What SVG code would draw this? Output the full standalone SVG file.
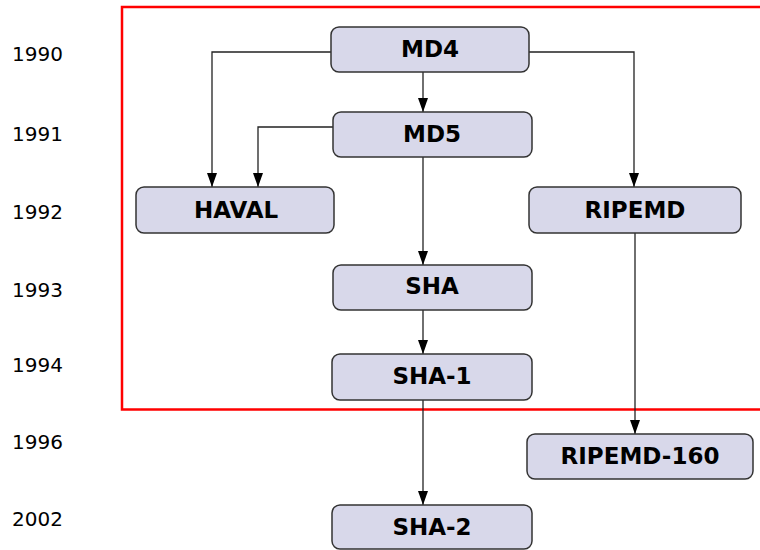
<svg xmlns="http://www.w3.org/2000/svg" width="760" height="550" viewBox="0 0 760 550">
<defs>
<marker id="ah" markerWidth="14" markerHeight="10" refX="14" refY="5" orient="auto" markerUnits="userSpaceOnUse" viewBox="0 0 14 10">
<path d="M0,0 L14,5 L0,10 z" fill="#000"/>
</marker>
<style>
.node rect{fill:#d8d8ea;stroke:#333;stroke-width:1.5}
.node text{font-family:"DejaVu Sans",Verdana,sans-serif;font-weight:bold;font-size:23px;text-anchor:middle;fill:#000}
.year{font-family:"DejaVu Sans",Verdana,sans-serif;font-size:20px;fill:#000}
.edge{fill:none;stroke:#222;stroke-width:1.3;marker-end:url(#ah)}
</style>
</defs>
<rect width="760" height="550" fill="#fff"/>
<path d="M762,7 H122 V409.5 H762" fill="none" stroke="#f00" stroke-width="2.5"/>
<g id="years">
<text class="year" x="12" y="61">1990</text>
<text class="year" x="12" y="141">1991</text>
<text class="year" x="12" y="219">1992</text>
<text class="year" x="12" y="297">1993</text>
<text class="year" x="12" y="372">1994</text>
<text class="year" x="12" y="449">1996</text>
<text class="year" x="12" y="526">2002</text>
</g>
<g id="connectors">
<path class="edge" d="M331,52 H212 V187"/>
<path class="edge" d="M529,52 H634 V187"/>
<path class="edge" d="M423,72 V112"/>
<path class="edge" d="M333,127 H258 V187"/>
<path class="edge" d="M423,157 V265"/>
<path class="edge" d="M423,310 V354"/>
<path class="edge" d="M423,400 V505"/>
<path class="edge" d="M635,233 V434"/>
</g>
<g id="md4" class="node"><rect x="331" y="27" width="198" height="45" rx="8"/><text x="430" y="57">MD4</text></g>
<g id="md5" class="node"><rect x="333" y="112" width="199" height="45" rx="8"/><text x="432" y="142">MD5</text></g>
<g id="haval" class="node"><rect x="136" y="187" width="198" height="46" rx="8"/><text x="236" y="218">HAVAL</text></g>
<g id="ripemd" class="node"><rect x="529" y="187" width="212" height="46" rx="8"/><text x="635" y="218">RIPEMD</text></g>
<g id="sha" class="node"><rect x="333" y="265" width="199" height="45" rx="8"/><text x="432" y="294">SHA</text></g>
<g id="sha1" class="node"><rect x="332" y="354" width="200" height="46" rx="8"/><text x="432" y="384">SHA-1</text></g>
<g id="ripemd160" class="node"><rect x="527" y="434" width="226" height="45" rx="8"/><text x="640" y="464">RIPEMD-160</text></g>
<g id="sha2" class="node"><rect x="332" y="505" width="200" height="44" rx="8"/><text x="432" y="535">SHA-2</text></g>
</svg>
